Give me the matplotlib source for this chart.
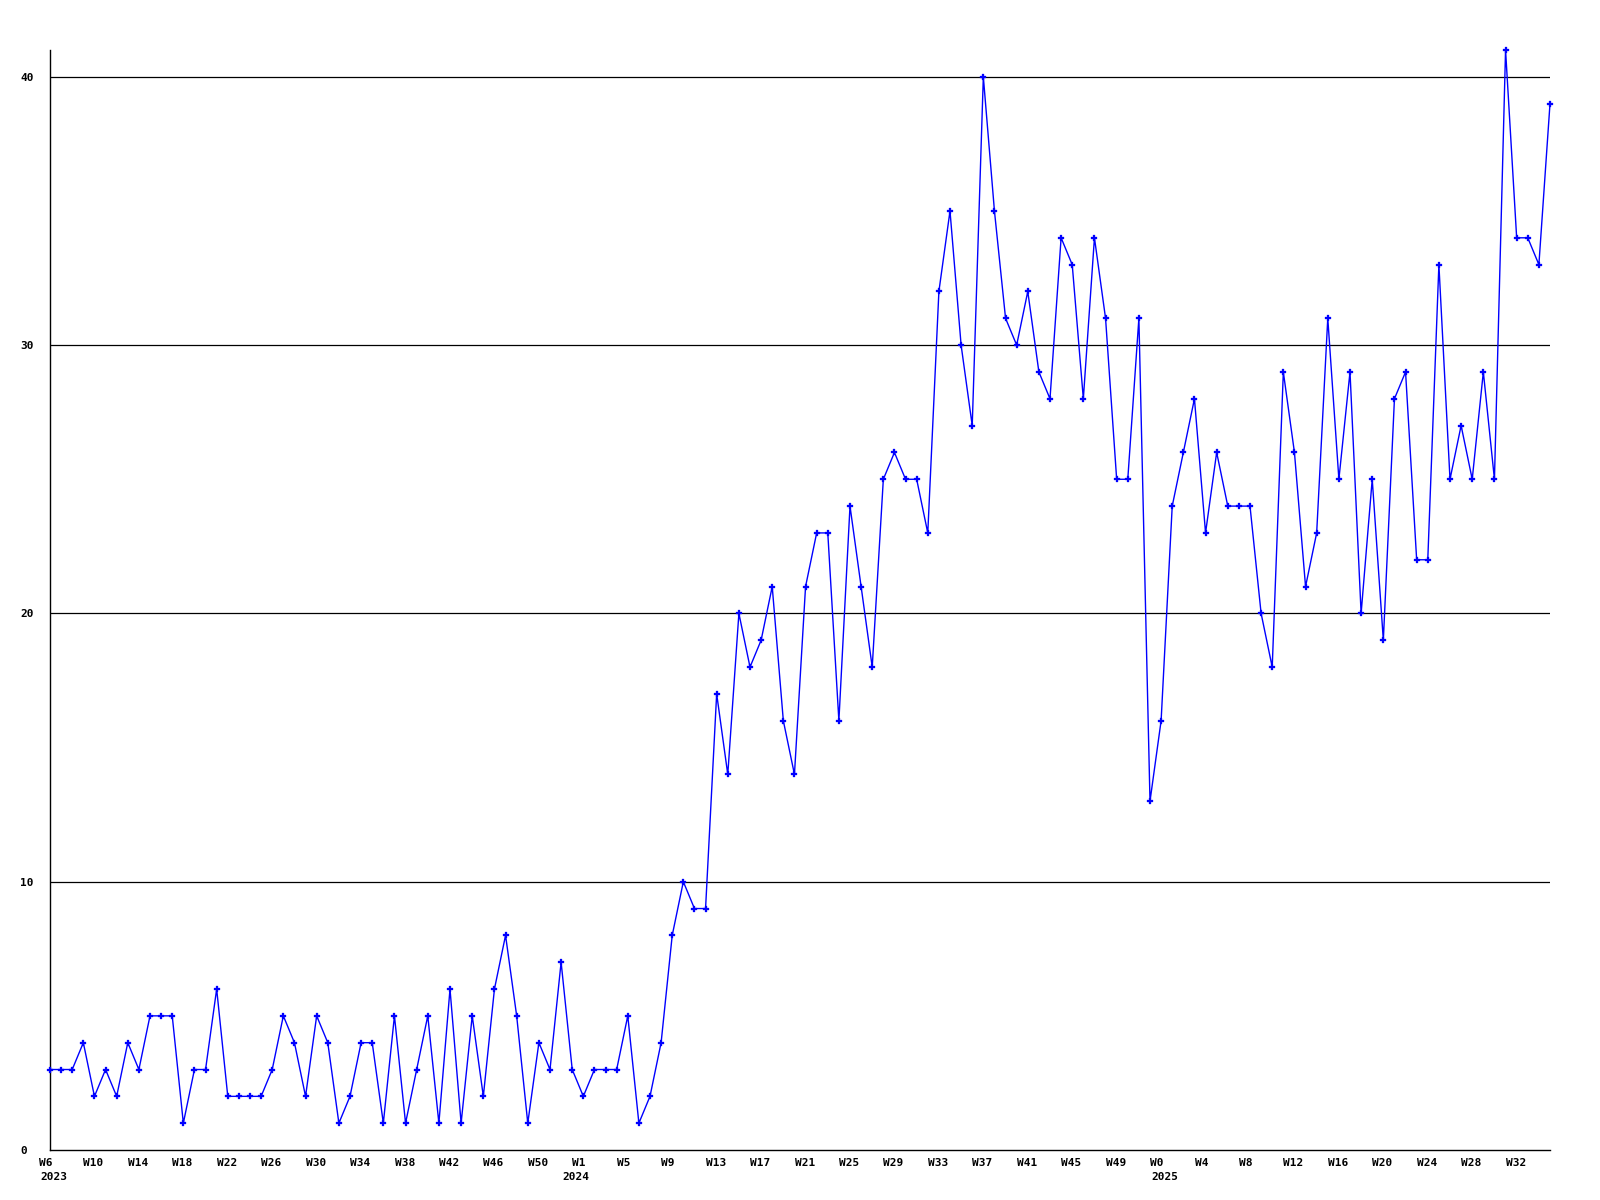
import matplotlib
matplotlib.use("Agg")
import matplotlib.pyplot as plt

# weekly counts, one list per year (first week number given separately)
first_week_2023 = 6
counts_2023 = [3, 3, 3, 4, 2, 3, 2, 4, 3, 5, 5, 5, 1, 3, 3, 6, 2, 2, 2, 2,
               3, 5, 4, 2, 5, 4, 1, 2, 4, 4, 1, 5, 1, 3, 5, 1, 6, 1, 5, 2,
               6, 8, 5, 1, 4, 3, 7]
first_week_2024 = 0
counts_2024 = [3, 2, 3, 3, 3, 5, 1, 2, 4, 8, 10, 9, 9, 17, 14, 20, 18, 19, 21, 16, 14,
               21, 23, 23, 16, 24, 21, 18, 25, 26, 25, 25, 23, 32, 35, 30, 27, 40, 35,
               31, 30, 32, 29, 28, 34, 33, 28, 34, 31, 25, 25, 31, 13]
first_week_2025 = 0
counts_2025 = [16, 24, 26, 28, 23, 26, 24, 24, 24, 20, 18, 29, 26, 21, 23, 31, 25, 29,
               20, 25, 19, 28, 29, 22, 22, 33, 25, 27, 25, 29, 25, 41, 34, 34, 33, 39]
years = ["2023", "2024", "2025"]
y_ticks = [0, 10, 20, 30, 40]

FONT = "DejaVu Sans Mono"
LABEL_KW = dict(fontfamily=FONT, fontweight="bold", fontsize=8)


def build_series():
    """Concatenate the years; remember week labels and where each year starts."""
    values, weeks, year_start = [], [], {}
    for year, first, counts in zip(years,
                                   (first_week_2023, first_week_2024, first_week_2025),
                                   (counts_2023, counts_2024, counts_2025)):
        year_start[len(values)] = year
        for i, c in enumerate(counts):
            values.append(c)
            weeks.append(f"W{first + i}")
    return values, weeks, year_start


values, weeks, year_start = build_series()
x = list(range(len(values)))

fig = plt.figure(figsize=(16, 12), dpi=100)
ax = fig.add_axes([50 / 1600, 50 / 1200, 1500 / 1600, 1100 / 1200])

ax.plot(x, values, color="#0000ff", lw=1.0, marker="P", ms=3.8,
        mec="#0000ff", mfc="#0000ff", mew=0.2, clip_on=False, zorder=3)

for v in y_ticks[1:]:
    ax.axhline(v, color="black", lw=0.9, zorder=0)

ax.set_xlim(0, len(values) - 1)
ax.set_ylim(0, 41)

# week labels every 4 weeks, text starts a little left of the point
ax.set_xticks([])
for i in x[::4]:
    ax.annotate(weeks[i], xy=(i, 0), xycoords=("data", "axes fraction"),
                xytext=(-11, -8), textcoords="offset pixels",
                ha="left", va="top", **LABEL_KW)
# year under the first week of each year
for i, year in year_start.items():
    ax.annotate(year, xy=(i, 0), xycoords=("data", "axes fraction"),
                xytext=(-10, -22), textcoords="offset pixels",
                ha="left", va="top", **LABEL_KW)

ax.set_yticks(y_ticks)
ax.set_yticklabels([str(v) for v in y_ticks], ha="left", **LABEL_KW)
ax.tick_params(axis="y", length=0, pad=21.6)

for s in ("top", "right"):
    ax.spines[s].set_visible(False)
for s in ("left", "bottom"):
    ax.spines[s].set_linewidth(1.0)
    ax.spines[s].set_color("black")

fig.savefig("out.png", dpi=100)
